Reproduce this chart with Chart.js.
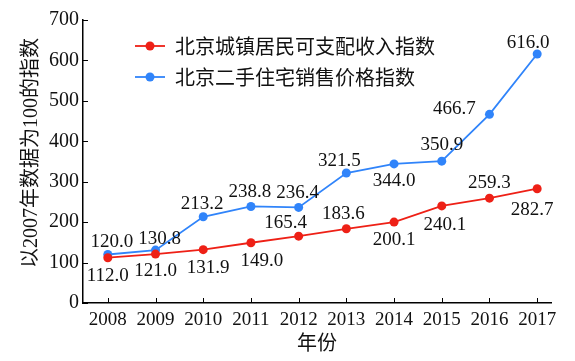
<!DOCTYPE html>
<html>
<head>
<meta charset="utf-8">
<script src="https://cdn.jsdelivr.net/npm/chart.js@4/dist/chart.umd.min.js"></script>
<style>
    html, body { margin: 0; padding: 0; background: #fff; }
    #wrap { width: 575px; height: 361px; position: relative; }
</style>
</head>
<body>
<div id="wrap"><canvas id="chart"></canvas></div>
<script>
const years = [2008, 2009, 2010, 2011, 2012, 2013, 2014, 2015, 2016, 2017];
const incomeIndex = [112.0, 121.0, 131.9, 149.0, 165.4, 183.6, 200.1, 240.1, 259.3, 282.7];
const houseIndex = [120.0, 130.8, 213.2, 238.8, 236.4, 321.5, 344.0, 350.9, 466.7, 616.0];
const yTicks = [0, 100, 200, 300, 400, 500, 600, 700];
const seriesNames = ['北京城镇居民可支配收入指数', '北京二手住宅销售价格指数'];
const yTitle = '以2007年数据为100的指数';

// label offsets (px) relative to each point
const incomeLabelShift = [[0, 18], [0, 17], [5, 18], [11, 18], [-13, -13], [-3, -15], [0, 18], [3, 19], [0, -15], [-5, 21]];
const houseLabelShift = [[4, -12], [4, -11], [-1, -13], [-1, -14], [-1, -14], [-7, -12], [0, 17], [0, -16], [-35, -5], [-9, -11]];

const RED = 'rgb(238, 32, 22)';
const BLUE = 'rgb(48, 132, 250)';
const SERIF = '"Liberation Serif", "Times New Roman", "Noto Sans CJK SC", serif';
const CJK = '"Noto Sans CJK SC", sans-serif';

const toPoints = vals => vals.map((v, i) => ({ x: years[i], y: v }));

const extras = {
    id: 'extras',
    afterDraw(chart) {
        const { ctx, chartArea, scales } = chart;
        const x = scales.x, y = scales.y;
        ctx.save();
        // inward tick marks
        ctx.strokeStyle = '#000';
        ctx.lineWidth = 1;
        ctx.beginPath();
        years.forEach(yr => {
            const px = Math.round(x.getPixelForValue(yr)) + 0.5;
            ctx.moveTo(px, chartArea.bottom);
            ctx.lineTo(px, chartArea.bottom - 5);
        });
        yTicks.forEach(t => {
            const py = Math.round(y.getPixelForValue(t)) + 0.5;
            ctx.moveTo(chartArea.left, py);
            ctx.lineTo(chartArea.left + 5, py);
        });
        ctx.stroke();

        // value labels
        ctx.font = '19px ' + SERIF;
        ctx.fillStyle = '#111';
        ctx.textAlign = 'center';
        ctx.textBaseline = 'middle';
        const shifts = [incomeLabelShift, houseLabelShift];
        chart.data.datasets.forEach((ds, di) => {
            chart.getDatasetMeta(di).data.forEach((pt, i) => {
                const s = shifts[di][i];
                ctx.fillText(ds.data[i].y.toFixed(1), pt.x + s[0], pt.y + s[1]);
            });
        });

        // y axis title, sits a little above the middle of the axis
        ctx.save();
        ctx.translate(32, chartArea.top + (chartArea.bottom - chartArea.top) * 0.47);
        ctx.rotate(-Math.PI / 2);
        ctx.font = '20px ' + SERIF;
        ctx.fillText(yTitle, 0, 0);
        ctx.restore();

        // legend
        ctx.font = '20px ' + CJK;
        ctx.textAlign = 'left';
        chart.data.datasets.forEach((ds, di) => {
            const ly = 46 + di * 31;
            ctx.strokeStyle = ds.borderColor;
            ctx.lineWidth = 1.8;
            ctx.beginPath();
            ctx.moveTo(135, ly);
            ctx.lineTo(165, ly);
            ctx.stroke();
            ctx.fillStyle = ds.borderColor;
            ctx.beginPath();
            ctx.arc(150, ly, 4.5, 0, Math.PI * 2);
            ctx.fill();
            ctx.fillStyle = '#111';
            ctx.fillText(ds.label, 175, ly);
        });
        ctx.restore();
    }
};

new Chart(document.getElementById('chart'), {
    type: 'line',
    data: {
        datasets: [
            {
                label: seriesNames[0],
                data: toPoints(incomeIndex),
                borderColor: RED,
                backgroundColor: RED,
                borderWidth: 1.8,
                pointRadius: 4.5,
                pointBorderWidth: 0,
                tension: 0
            },
            {
                label: seriesNames[1],
                data: toPoints(houseIndex),
                borderColor: BLUE,
                backgroundColor: BLUE,
                borderWidth: 1.8,
                pointRadius: 4.5,
                pointBorderWidth: 0,
                tension: 0
            }
        ]
    },
    options: {
        responsive: true,
        maintainAspectRatio: false,
        animation: false,
        layout: { padding: { top: 20, right: 24, left: 0, bottom: 0 } },
        plugins: {
            legend: { display: false },
            tooltip: { enabled: false }
        },
        scales: {
            x: {
                type: 'linear',
                min: 2007.48,
                max: 2017.29,
                afterBuildTicks: s => { s.ticks = years.map(v => ({ value: v })); },
                afterFit: s => { s.height = 58; },
                grid: { display: false, drawTicks: false },
                border: { display: true, color: '#000', width: 1.5 },
                ticks: {
                    padding: 6,
                    color: '#111',
                    font: { family: SERIF, size: 19 },
                    callback: v => String(v),
                    maxRotation: 0,
                    autoSkip: false
                },
                title: {
                    display: true,
                    text: '年份',
                    color: '#111',
                    font: { family: SERIF, size: 20 },
                    padding: { top: 0, bottom: 4 }
                }
            },
            y: {
                min: 0,
                max: 700,
                afterBuildTicks: s => { s.ticks = yTicks.map(v => ({ value: v })); },
                afterFit: s => { s.width = 83; },
                grid: { display: false, drawTicks: false },
                border: { display: true, color: '#000', width: 1.5 },
                ticks: {
                    padding: 4,
                    color: '#111',
                    font: { family: SERIF, size: 20 },
                    callback: v => String(v)
                }
            }
        }
    },
    plugins: [extras]
});
</script>
</body>
</html>
